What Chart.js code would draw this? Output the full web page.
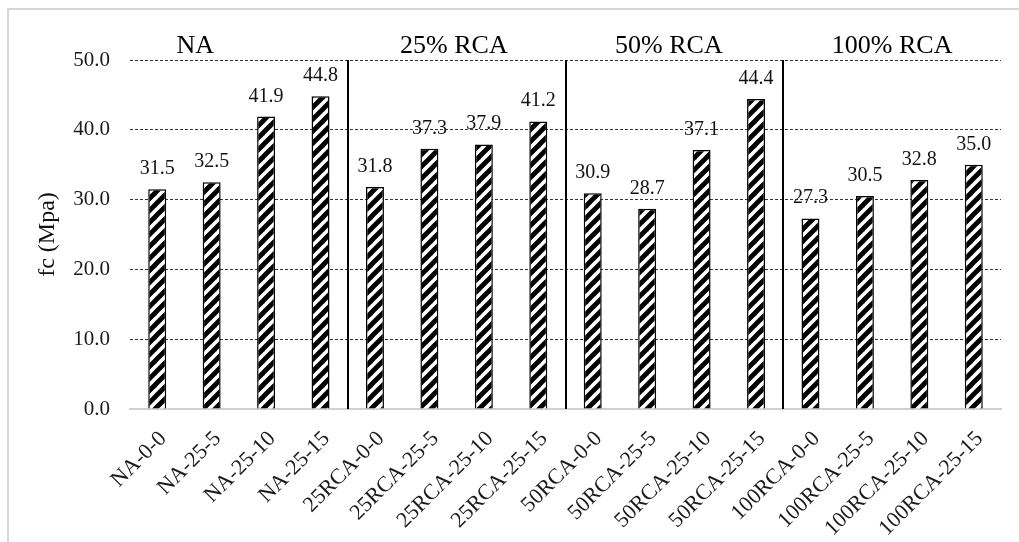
<!DOCTYPE html>
<html>
<head>
<meta charset="utf-8">
<script src="https://cdn.jsdelivr.net/npm/chart.js@4.4.1/dist/chart.umd.min.js"></script>
<style>
  html, body { margin: 0; padding: 0; background: #ffffff; }
  #wrap { position: relative; width: 1019px; height: 542px; }
</style>
</head>
<body>
<div id="wrap"><canvas id="chart"></canvas></div>
<script>
// Mix designs (natural aggregate and recycled concrete aggregate replacement levels)
const categories = [
  'NA-0-0', 'NA-25-5', 'NA-25-10', 'NA-25-15',
  '25RCA-0-0', '25RCA-25-5', '25RCA-25-10', '25RCA-25-15',
  '50RCA-0-0', '50RCA-25-5', '50RCA-25-10', '50RCA-25-15',
  '100RCA-0-0', '100RCA-25-5', '100RCA-25-10', '100RCA-25-15'
];
// Compressive strength fc (MPa)
const fcValues = [
  31.5, 32.5, 41.9, 44.8,
  31.8, 37.3, 37.9, 41.2,
  30.9, 28.7, 37.1, 44.4,
  27.3, 30.5, 32.8, 35.0
];
// Aggregate groups, four mixes each
const groupLabels = ['NA', '25% RCA', '50% RCA', '100% RCA'];
const groupSize = 4;
// Y axis tick values
const yTicks = [0, 10, 20, 30, 40, 50];

const SERIF = '"Liberation Serif", "Times New Roman", serif';

// Diagonal hatching used as the bar fill
function makeHatch() {
  const s = 12;
  const c = document.createElement('canvas');
  c.width = s; c.height = s;
  const g = c.getContext('2d');
  g.fillStyle = '#ffffff';
  g.fillRect(0, 0, s, s);
  g.strokeStyle = '#000000';
  g.lineWidth = 4.8;
  g.lineCap = 'square';
  for (const off of [-s, 0, s]) {
    g.beginPath();
    g.moveTo(off, s);
    g.lineTo(off + s, 0);
    g.stroke();
  }
  return g.createPattern(c, 'repeat');
}

// Outer frame, group dividers, group captions and value labels
const decorations = {
  id: 'decorations',
  beforeDraw(chart) {
    const ctx = chart.ctx;
    ctx.save();
    ctx.fillStyle = '#ffffff';
    ctx.fillRect(0, 0, chart.width, chart.height);
    ctx.strokeStyle = '#d6d6d6';
    ctx.lineWidth = 2;
    ctx.strokeRect(8, 9, chart.width + 20, chart.height + 20);
    ctx.restore();
  },
  afterDatasetsDraw(chart, args, opts) {
    const ctx = chart.ctx;
    const x = chart.scales.x;
    const area = chart.chartArea;
    ctx.save();
    // dividers between groups
    ctx.strokeStyle = '#000000';
    ctx.lineWidth = 2;
    for (let g = 1; g < groupLabels.length; g++) {
      const i = g * groupSize;
      const px = Math.round((x.getPixelForValue(i - 1) + x.getPixelForValue(i)) / 2);
      ctx.beginPath();
      ctx.moveTo(px, area.top);
      ctx.lineTo(px, area.bottom);
      ctx.stroke();
    }
    // group captions
    ctx.fillStyle = '#000000';
    ctx.font = '26px ' + SERIF;
    ctx.textAlign = 'center';
    ctx.textBaseline = 'alphabetic';
    groupLabels.forEach((lbl, g) => {
      const px = x.getPixelForValue(opts.captionAnchors[g]);
      ctx.fillText(lbl, px, area.top - 7);
    });
    // value labels above bars
    ctx.font = '20px ' + SERIF;
    ctx.fillStyle = '#111111';
    const meta = chart.getDatasetMeta(0);
    meta.data.forEach((bar, i) => {
      ctx.fillText(fcValues[i].toFixed(1), bar.x, bar.y - 15);
    });
    ctx.restore();
  }
};

new Chart(document.getElementById('chart'), {
  type: 'bar',
  data: {
    labels: categories,
    datasets: [{
      label: 'fc (Mpa)',
      data: fcValues,
      backgroundColor: makeHatch(),
      borderColor: '#000000',
      borderWidth: 1.5,
      categoryPercentage: 1,
      barPercentage: 0.33
    }]
  },
  options: {
    responsive: true,
    maintainAspectRatio: false,
    animation: false,
    layout: { padding: { left: 0, right: 18, top: 60, bottom: 0 } },
    plugins: {
      legend: { display: false },
      tooltip: { enabled: false },
      decorations: { captionAnchors: [0.7, 5.45, 9.4, 13.5] }
    },
    scales: {
      x: {
        grid: { display: false },
        border: { display: true, color: '#d0d0d0', width: 2 },
        ticks: {
          color: '#1a1a1a',
          font: { family: SERIF, size: 22 },
          minRotation: 45,
          maxRotation: 45,
          padding: 9,
          labelOffset: 6,
          autoSkip: false
        },
        afterFit(scale) { scale.height = 133; }
      },
      y: {
        min: 0,
        max: 50,
        afterBuildTicks(scale) { scale.ticks = yTicks.map(v => ({ value: v })); },
        grid: {
          drawTicks: false,
          color: ctx => (ctx.tick && ctx.tick.value === 0) ? 'rgba(0,0,0,0)' : '#333333',
          lineWidth: 1
        },
        border: { display: false, dash: [3, 2] },
        ticks: {
          color: '#1a1a1a',
          font: { family: SERIF, size: 21 },
          padding: 20,
          callback: v => Number(v).toFixed(1)
        },
        title: {
          display: true,
          text: 'fc (Mpa)',
          color: '#111111',
          font: { family: SERIF, size: 24 },
          padding: { top: 33, bottom: 0 }
        },
        afterFit(scale) { scale.width = 130; }
      }
    }
  },
  plugins: [decorations]
});
</script>
</body>
</html>
